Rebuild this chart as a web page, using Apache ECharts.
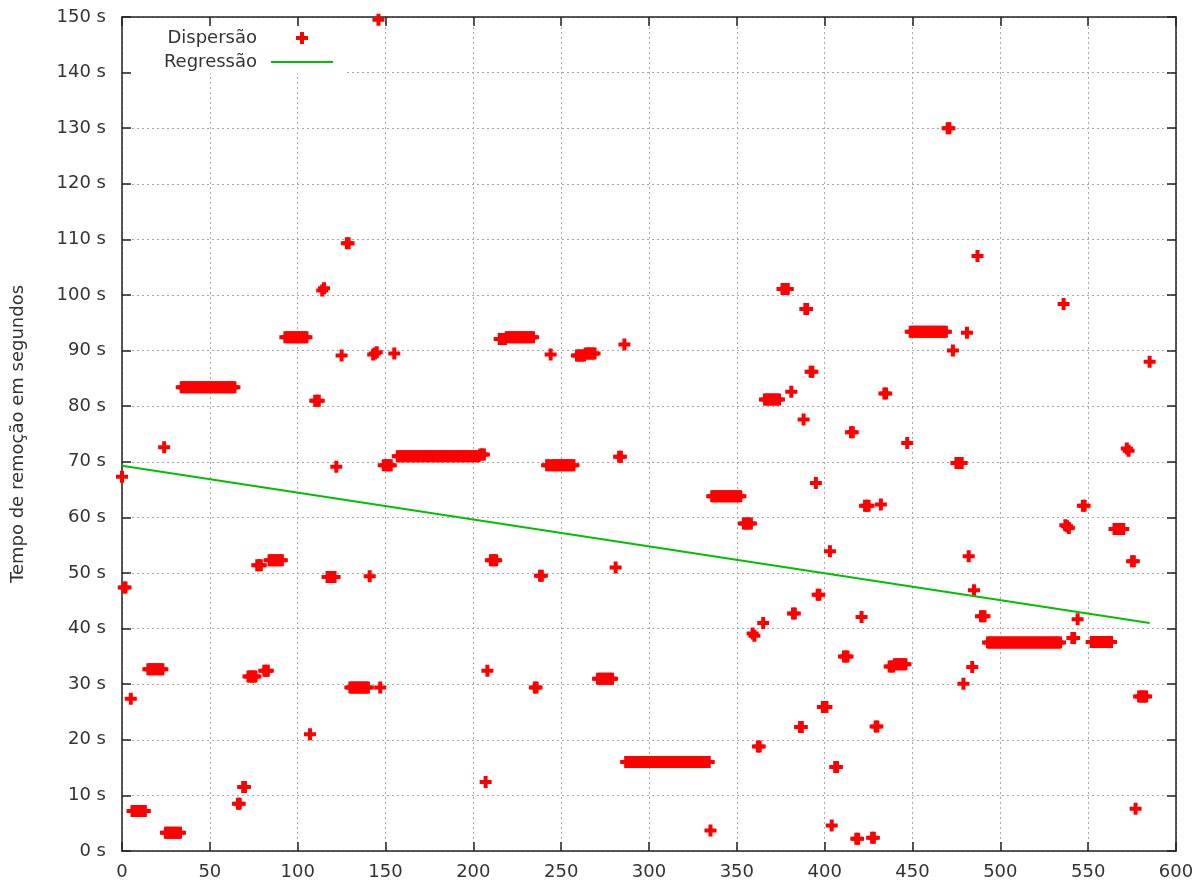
<!DOCTYPE html>
<html>
<head>
<meta charset="utf-8">
<script src="https://cdn.jsdelivr.net/npm/echarts@6/dist/echarts.min.js"></script>
<style>
  html, body { margin: 0; padding: 0; background: #ffffff; }
  #chart { width: 1201px; height: 886px; }
</style>
</head>
<body>
<div id="chart"></div>
<script>
// Removal time (seconds) per sample index
const dispersao = [
  [0, 67.3], [1, 47.4], [2, 47.4], [5, 27.4],
  [6, 7.2], [7, 7.2], [8, 7.2], [9, 7.2], [10, 7.2], [11, 7.2], [12, 7.2], [13, 7.2],
  [15, 32.7], [16, 32.7], [17, 32.7], [18, 32.7], [19, 32.7], [20, 32.7], [21, 32.7], [22, 32.7], [23, 32.7],
  [24, 72.6],
  [25, 3.3], [26, 3.3], [27, 3.3], [28, 3.3], [29, 3.3], [30, 3.3], [31, 3.3], [32, 3.3], [33, 3.3],
  [34, 83.4], [35, 83.4], [36, 83.4], [37, 83.4], [38, 83.4], [39, 83.4], [40, 83.4], [41, 83.4], [42, 83.4], [43, 83.4],
  [44, 83.4], [45, 83.4], [46, 83.4], [47, 83.4], [48, 83.4], [49, 83.4], [50, 83.4], [51, 83.4], [52, 83.4], [53, 83.4],
  [54, 83.4], [55, 83.4], [56, 83.4], [57, 83.4], [58, 83.4], [59, 83.4], [60, 83.4], [61, 83.4], [62, 83.4], [63, 83.4],
  [64, 83.4],
  [66, 8.5], [67, 8.5], [69, 11.5], [70, 11.5],
  [72, 31.4], [73, 31.4], [74, 31.4], [75, 31.4], [76, 31.4],
  [77, 51.4], [78, 51.4], [79, 51.4],
  [81, 32.4], [82, 32.4], [83, 32.4],
  [84, 52.3], [85, 52.3], [86, 52.3], [87, 52.3], [88, 52.3], [89, 52.3], [90, 52.3], [91, 52.3],
  [93, 92.4], [94, 92.4], [95, 92.4], [96, 92.4], [97, 92.4], [98, 92.4], [99, 92.4], [100, 92.4], [101, 92.4],
  [102, 92.4], [103, 92.4], [104, 92.4], [105, 92.4],
  [107, 21.0],
  [110, 81.0], [111, 81.0], [112, 81.0],
  [114, 100.8], [115, 101.2],
  [117, 49.3], [118, 49.3], [119, 49.3], [120, 49.3], [121, 49.3],
  [122, 69.1], [125, 89.1], [128, 109.3], [129, 109.3],
  [130, 29.4], [131, 29.4], [132, 29.4], [133, 29.4], [134, 29.4], [135, 29.4], [136, 29.4], [137, 29.4],
  [138, 29.4], [139, 29.4], [140, 29.4],
  [141, 49.4], [143, 89.3], [144, 89.5], [145, 89.7], [146, 149.5], [147, 29.4],
  [149, 69.4], [150, 69.4], [151, 69.4], [152, 69.4], [153, 69.4], [155, 89.5],
  [157, 71.0], [158, 71.0], [159, 71.0], [160, 71.0], [161, 71.0], [162, 71.0], [163, 71.0], [164, 71.0],
  [165, 71.0], [166, 71.0], [167, 71.0], [168, 71.0], [169, 71.0], [170, 71.0], [171, 71.0], [172, 71.0],
  [173, 71.0], [174, 71.0], [175, 71.0], [176, 71.0], [177, 71.0], [178, 71.0], [179, 71.0], [180, 71.0],
  [181, 71.0], [182, 71.0], [183, 71.0], [184, 71.0], [185, 71.0], [186, 71.0], [187, 71.0], [188, 71.0],
  [189, 71.0], [190, 71.0], [191, 71.0], [192, 71.0], [193, 71.0], [194, 71.0], [195, 71.0], [196, 71.0],
  [197, 71.0], [198, 71.0], [199, 71.0], [200, 71.0], [201, 71.0], [202, 71.0], [203, 71.0],
  [204, 71.3], [205, 71.3], [206, 71.3],
  [207, 12.4], [208, 32.4],
  [210, 52.3], [211, 52.3], [212, 52.3], [213, 52.3],
  [215, 92.1], [216, 92.1], [217, 92.1], [218, 92.1],
  [219, 92.4], [220, 92.4], [221, 92.4], [222, 92.4], [223, 92.4], [224, 92.4], [225, 92.4], [226, 92.4],
  [227, 92.4], [228, 92.4], [229, 92.4], [230, 92.4], [231, 92.4], [232, 92.4], [233, 92.4], [234, 92.4],
  [235, 29.4], [236, 29.4], [238, 49.5], [239, 49.5],
  [242, 69.4], [243, 69.4], [244, 89.3], [245, 69.4], [246, 69.4], [247, 69.4], [248, 69.4], [249, 69.4],
  [250, 69.4], [251, 69.4], [252, 69.4], [253, 69.4], [254, 69.4], [255, 69.4], [256, 69.4], [257, 69.4],
  [259, 89.1], [260, 89.1], [261, 89.1], [262, 89.1], [263, 89.1],
  [264, 89.5], [265, 89.5], [266, 89.5], [267, 89.5], [268, 89.5], [269, 89.5],
  [271, 31.0], [272, 31.0], [273, 31.0], [274, 31.0], [275, 31.0], [276, 31.0], [277, 31.0], [278, 31.0], [279, 31.0],
  [281, 51.0], [283, 70.9], [284, 70.9], [286, 91.1],
  [287, 16.0], [288, 16.0], [289, 16.0], [290, 16.0], [291, 16.0], [292, 16.0], [293, 16.0], [294, 16.0],
  [295, 16.0], [296, 16.0], [297, 16.0], [298, 16.0], [299, 16.0], [300, 16.0], [301, 16.0], [302, 16.0],
  [303, 16.0], [304, 16.0], [305, 16.0], [306, 16.0], [307, 16.0], [308, 16.0], [309, 16.0], [310, 16.0],
  [311, 16.0], [312, 16.0], [313, 16.0], [314, 16.0], [315, 16.0], [316, 16.0], [317, 16.0], [318, 16.0],
  [319, 16.0], [320, 16.0], [321, 16.0], [322, 16.0], [323, 16.0], [324, 16.0], [325, 16.0], [326, 16.0],
  [327, 16.0], [328, 16.0], [329, 16.0], [330, 16.0], [331, 16.0], [332, 16.0], [333, 16.0], [334, 16.0],
  [335, 3.7],
  [336, 63.8], [337, 63.8], [338, 63.8], [339, 63.8], [340, 63.8], [341, 63.8], [342, 63.8], [343, 63.8],
  [344, 63.8], [345, 63.8], [346, 63.8], [347, 63.8], [348, 63.8], [349, 63.8], [350, 63.8], [351, 63.8], [352, 63.8],
  [354, 58.9], [355, 58.9], [356, 58.9], [357, 58.9], [358, 58.9],
  [359, 39.1], [360, 38.7], [362, 18.8], [363, 18.8], [365, 41.0],
  [366, 81.2], [367, 81.2], [368, 81.2], [369, 81.2], [370, 81.2], [371, 81.2], [372, 81.2], [373, 81.2], [374, 81.2],
  [376, 101.1], [377, 101.1], [378, 101.1], [379, 101.1],
  [381, 82.6], [382, 42.7], [383, 42.7], [386, 22.3], [387, 22.3], [388, 77.6],
  [389, 97.5], [390, 97.5], [392, 86.2], [393, 86.2], [395, 66.2], [396, 46.1], [397, 46.1],
  [399, 25.9], [400, 25.9], [401, 25.9], [403, 53.9], [404, 4.6], [406, 15.1], [407, 15.1],
  [411, 35.0], [412, 35.0], [413, 35.0], [415, 75.3], [416, 75.3], [418, 2.2], [419, 2.2], [421, 42.1],
  [423, 62.1], [424, 62.1], [425, 62.1], [427, 2.4], [428, 2.4], [429, 22.4], [430, 22.4], [432, 62.3],
  [434, 82.3], [435, 82.3],
  [437, 33.2], [438, 33.2], [439, 33.2],
  [440, 33.6], [441, 33.6], [442, 33.6], [443, 33.6], [444, 33.6], [445, 33.6], [446, 33.6],
  [447, 73.4],
  [449, 93.4], [450, 93.4], [451, 93.4], [452, 93.4], [453, 93.4], [454, 93.4], [455, 93.4], [456, 93.4],
  [457, 93.4], [458, 93.4], [459, 93.4], [460, 93.4], [461, 93.4], [462, 93.4], [463, 93.4], [464, 93.4],
  [465, 93.4], [466, 93.4], [467, 93.4], [468, 93.4], [469, 93.4],
  [470, 130.0], [471, 130.0], [473, 90.0],
  [475, 69.8], [476, 69.8], [477, 69.8], [478, 69.8],
  [479, 30.1], [481, 93.2], [482, 53.0], [484, 33.1], [485, 46.9], [487, 107.0],
  [489, 42.2], [490, 42.2], [491, 42.2],
  [493, 37.5], [494, 37.5], [495, 37.5], [496, 37.5], [497, 37.5], [498, 37.5], [499, 37.5], [500, 37.5],
  [501, 37.5], [502, 37.5], [503, 37.5], [504, 37.5], [505, 37.5], [506, 37.5], [507, 37.5], [508, 37.5],
  [509, 37.5], [510, 37.5], [511, 37.5], [512, 37.5], [513, 37.5], [514, 37.5], [515, 37.5], [516, 37.5],
  [517, 37.5], [518, 37.5], [519, 37.5], [520, 37.5], [521, 37.5], [522, 37.5], [523, 37.5], [524, 37.5],
  [525, 37.5], [526, 37.5], [527, 37.5], [528, 37.5], [529, 37.5], [530, 37.5], [531, 37.5], [532, 37.5],
  [533, 37.5], [534, 37.5],
  [536, 98.4], [537, 58.6], [538, 58.4], [539, 58.1], [541, 38.3], [542, 38.3], [544, 41.7],
  [547, 62.1], [548, 62.1],
  [552, 37.6], [553, 37.6], [554, 37.6], [555, 37.6], [556, 37.6], [557, 37.6], [558, 37.6], [559, 37.6],
  [560, 37.6], [561, 37.6], [562, 37.6], [563, 37.6],
  [565, 57.9], [566, 57.9], [567, 57.9], [568, 57.9], [569, 57.9], [570, 57.9],
  [572, 72.4], [573, 72.0], [575, 52.1], [576, 52.1], [577, 7.6],
  [579, 27.8], [580, 27.8], [581, 27.8], [582, 27.8], [583, 27.8],
  [585, 88.0]
];

// Fitted regression line endpoints (sample index, seconds)
const regressao = [[0, 69.3], [585, 41.0]];

const seriesNames = ['Dispersão', 'Regressão'];
const yAxisTitle = 'Tempo de remoção em segundos';
const yUnit = ' s';

const FONT = 'DejaVu Sans';
const TEXT = '#333333';
const BORDER = '#222222';
const PLUS = 'path://M4,0H8V4H12V8H8V12H4V8H0V4H4Z';
const DASH = 'path://M0,0H31V1H0Z';

const chart = echarts.init(document.getElementById('chart'), null, { renderer: 'canvas' });

const frameLine = { show: true, onZero: false, lineStyle: { color: BORDER, width: 1.5 } };
const frameTick = { show: true, inside: true, length: 9, lineStyle: { color: BORDER, width: 1.5 } };
const gridDots = { show: true, lineStyle: { color: '#a8a8a8', width: 1, type: [2, 3] } };

const legendBase = {
  orient: 'vertical',
  align: 'right',
  itemWidth: 62,
  itemHeight: 12,
  padding: 0,
  selectedMode: false,
  textStyle: { color: TEXT, fontFamily: FONT, fontSize: 18, padding: [0, 9, 0, 0] }
};

chart.setOption({
  animation: false,
  backgroundColor: '#ffffff',
  textStyle: { fontFamily: FONT },
  grid: { left: 122, right: 25, top: 17, bottom: 35, containLabel: false },
  graphic: [{
    type: 'rect',
    silent: true,
    z: 1,
    shape: { x: 131, y: 27, width: 214, height: 46 },
    style: { fill: '#ffffff' }
  }],
  legend: [
    // the scatter key's box ends at the plus sign itself
    Object.assign({}, legendBase, { top: 29, right: 893, data: [{ name: seriesNames[0], icon: PLUS }] }),
    Object.assign({}, legendBase, { top: 53, right: 868, data: [{ name: seriesNames[1], icon: DASH }] })
  ],
  xAxis: [
    {
      type: 'value', min: 0, max: 600, interval: 50, position: 'bottom',
      axisLine: frameLine, axisTick: frameTick,
      axisLabel: { color: TEXT, fontFamily: FONT, fontSize: 18, margin: 12 },
      splitLine: gridDots
    },
    {
      type: 'value', min: 0, max: 600, interval: 50, position: 'top',
      axisLine: frameLine, axisTick: frameTick,
      axisLabel: { show: false }, splitLine: { show: false }
    }
  ],
  yAxis: [
    {
      type: 'value', min: 0, max: 150, interval: 10, position: 'left',
      name: yAxisTitle, nameLocation: 'middle', nameGap: 95,
      nameTextStyle: { color: TEXT, fontFamily: FONT, fontSize: 18 },
      axisLine: frameLine, axisTick: frameTick,
      axisLabel: { color: TEXT, fontFamily: FONT, fontSize: 18, margin: 16, formatter: '{value}' + yUnit },
      splitLine: gridDots
    },
    {
      type: 'value', min: 0, max: 150, interval: 10, position: 'right',
      axisLine: frameLine, axisTick: frameTick,
      axisLabel: { show: false }, splitLine: { show: false }
    }
  ],
  series: [
    {
      name: seriesNames[0],
      type: 'scatter',
      data: dispersao,
      symbol: PLUS,
      symbolSize: 12,
      itemStyle: { color: '#ff0000', opacity: 1 },
      z: 3
    },
    {
      name: seriesNames[1],
      type: 'line',
      data: regressao,
      symbol: 'none',
      lineStyle: { color: '#00c000', width: 2 },
      itemStyle: { color: '#00c000' },
      z: 4
    }
  ]
});
</script>
</body>
</html>
